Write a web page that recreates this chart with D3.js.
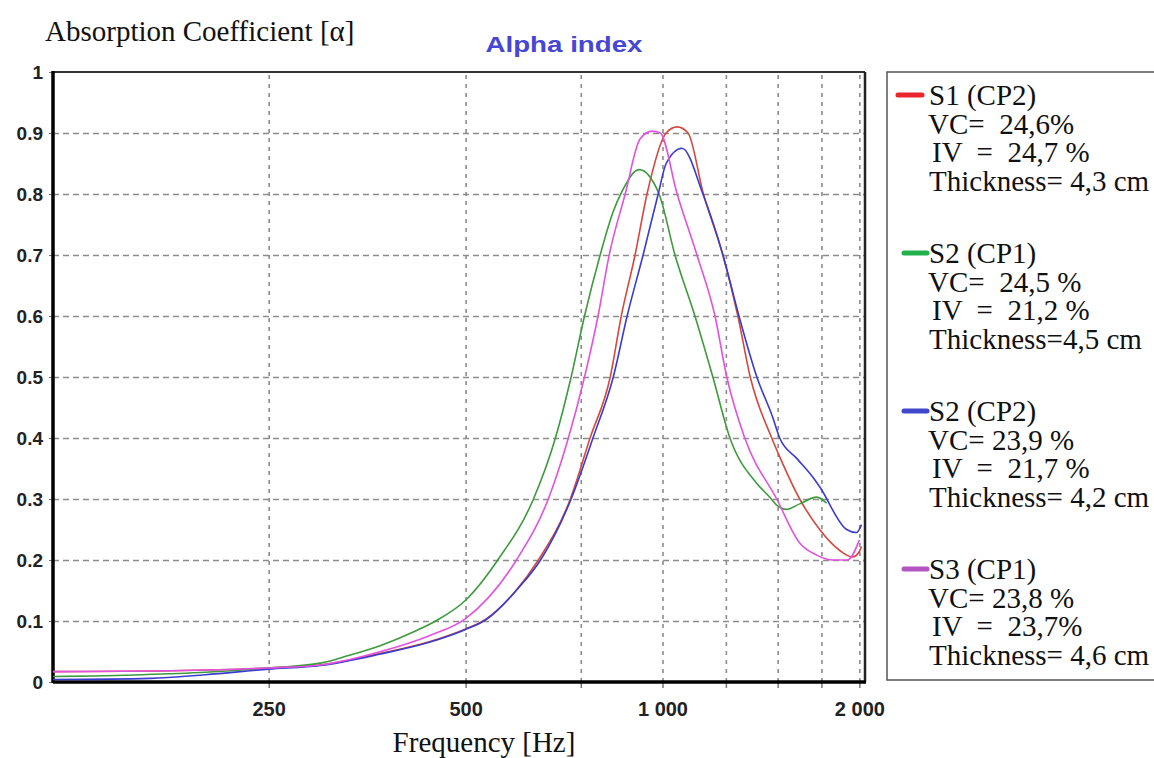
<!DOCTYPE html>
<html>
<head>
<meta charset="utf-8">
<script src="https://cdn.jsdelivr.net/npm/d3@7"></script>
<style>
  body { margin: 0; background: #fff; }
  svg { display: block; }
</style>
</head>
<body>
<svg id="chart" width="1154" height="758"></svg>
<script>
// valeurs : [fréquence Hz, alpha]
const s1Data = [[117,0.017],[170,0.018],[210,0.020],[250,0.023],[300,0.028],[371,0.047],[440,0.066],[500,0.087],[537,0.103],[595,0.148],[646,0.200],[723,0.300],[775,0.400],[832,0.500],[865,0.600],[908,0.700],[947,0.800],[1013,0.900],[1053,0.910],[1094,0.900],[1155,0.800],[1237,0.700],[1304,0.600],[1362,0.500],[1469,0.400],[1511,0.369],[1621,0.300],[1739,0.250],[1865,0.216],[1952,0.205],[2000,0.214],[2015,0.222]];
const s2cp1Data = [[117,0.009],[160,0.012],[200,0.016],[250,0.023],[300,0.031],[330,0.043],[371,0.060],[420,0.084],[450,0.100],[500,0.134],[560,0.200],[635,0.300],[686,0.400],[725,0.500],[760,0.600],[803,0.700],[840,0.770],[868,0.805],[921,0.840],[988,0.800],[1045,0.700],[1121,0.600],[1194,0.500],[1268,0.400],[1393,0.326],[1459,0.303],[1495,0.290],[1548,0.283],[1621,0.292],[1721,0.303],[1782,0.293]];
const s2cp2Data = [[117,0.004],[165,0.006],[200,0.012],[250,0.021],[300,0.027],[371,0.046],[440,0.065],[500,0.086],[537,0.102],[600,0.152],[651,0.200],[725,0.300],[783,0.400],[841,0.500],[883,0.600],[934,0.700],[985,0.800],[1013,0.850],[1071,0.875],[1153,0.800],[1237,0.700],[1309,0.600],[1394,0.500],[1474,0.434],[1511,0.400],[1603,0.367],[1697,0.336],[1739,0.320],[1912,0.250],[1980,0.245],[2015,0.258]];
const s3Data = [[117,0.017],[170,0.018],[210,0.020],[250,0.023],[300,0.028],[371,0.050],[440,0.076],[500,0.104],[598,0.200],[669,0.300],[718,0.400],[760,0.500],[797,0.600],[829,0.700],[877,0.800],[924,0.890],[964,0.903],[992,0.900],[1053,0.800],[1129,0.700],[1203,0.600],[1254,0.500],[1336,0.400],[1495,0.300],[1621,0.228],[1721,0.208],[1820,0.200],[1918,0.200],[2000,0.233]];

const seriesNames = ["S1 (CP2)", "S2 (CP1)", "S2 (CP2)", "S3 (CP1)"];
const lineColors = ["#d5483e", "#3d9a3d", "#3a3ccc", "#e252e2"];
const swatchColors = ["#e8262c", "#22b14c", "#3f48cc", "#b355c0"];
const vcLabels = ["VC=  24,6%", "VC=  24,5 %", "VC= 23,9 %", "VC= 23,8 %"];
const ivLabels = ["IV  =  24,7 %", "IV  =  21,2 %", "IV  =  21,7 %", "IV  =  23,7%"];
const thickLabels = ["Thickness= 4,3 cm", "Thickness=4,5 cm", "Thickness= 4,2 cm", "Thickness= 4,6 cm"];

const xGridValues = [250, 500, 750, 1000, 1250, 1500, 1750, 2000];
const xTickValues = [250, 500, 1000, 2000];
const xTickLabels = ["250", "500", "1 000", "2 000"];
const yTickValues = [0, 0.1, 0.2, 0.3, 0.4, 0.5, 0.6, 0.7, 0.8, 0.9, 1];
const yTickLabels = ["0", "0.1", "0.2", "0.3", "0.4", "0.5", "0.6", "0.7", "0.8", "0.9", "1"];

const allSeries = [s1Data, s2cp1Data, s2cp2Data, s3Data];

const svg = d3.select("#chart");
const plotLeft = 53, plotRight = 865, plotTop = 72, plotBottom = 682;

const x = d3.scaleLog().domain([117, 2040]).range([plotLeft, plotRight]);
const y = d3.scaleLinear().domain([0, 1]).range([plotBottom, plotTop]);

const sansFont = "'Liberation Sans', Arial, sans-serif";
const serifFont = "'Liberation Serif', 'Times New Roman', serif";

// grille verticale
const gx = svg.append("g")
    .attr("transform", `translate(0,${plotBottom})`)
    .call(d3.axisBottom(x).tickValues(xGridValues).tickSize(-(plotBottom - plotTop)).tickFormat(""));
gx.select(".domain").remove();
gx.selectAll("line")
    .attr("stroke", "#8c8c8c")
    .attr("stroke-width", 1.6)
    .attr("stroke-dasharray", "4,5");

// petits traits sous l'axe
svg.append("g")
    .attr("transform", `translate(0,${plotBottom})`)
    .call(d3.axisBottom(x).tickValues(xGridValues).tickSize(6).tickFormat(""))
    .call(g => g.select(".domain").remove())
    .selectAll("line").attr("stroke", "#777").attr("stroke-width", 1.5);

// grille horizontale
const gy = svg.append("g")
    .attr("transform", `translate(${plotLeft},0)`)
    .call(d3.axisLeft(y).tickValues(yTickValues.slice(1, -1)).tickSize(-(plotRight - plotLeft)).tickFormat(""));
gy.select(".domain").remove();
gy.selectAll("line")
    .attr("stroke", "#8c8c8c")
    .attr("stroke-width", 1.6)
    .attr("stroke-dasharray", "6,4");

// étiquettes axe x
const xAxis = svg.append("g")
    .attr("transform", `translate(0,${plotBottom})`)
    .call(d3.axisBottom(x).tickValues(xTickValues).tickSize(0).tickPadding(20)
        .tickFormat((d, i) => xTickLabels[i]));
xAxis.select(".domain").remove();
xAxis.selectAll("text")
    .attr("font-family", sansFont)
    .attr("font-weight", "bold")
    .attr("font-size", 20)
    .attr("fill", "#222");

// étiquettes axe y
const yAxis = svg.append("g")
    .attr("transform", `translate(${plotLeft},0)`)
    .call(d3.axisLeft(y).tickValues(yTickValues).tickSize(4).tickPadding(6)
        .tickFormat((d, i) => yTickLabels[i]));
yAxis.select(".domain").remove();
yAxis.selectAll("line").attr("stroke", "#777");
yAxis.selectAll("text")
    .attr("font-family", sansFont)
    .attr("font-weight", "bold")
    .attr("font-size", 19)
    .attr("fill", "#222");

// cadre
svg.append("line").attr("x1", plotLeft).attr("x2", plotRight).attr("y1", plotTop).attr("y2", plotTop)
    .attr("stroke", "#333").attr("stroke-width", 2);
svg.append("line").attr("x1", plotRight).attr("x2", plotRight).attr("y1", plotTop).attr("y2", plotBottom)
    .attr("stroke", "#222").attr("stroke-width", 2.5);
svg.append("line").attr("x1", plotLeft).attr("x2", plotLeft).attr("y1", plotTop - 1).attr("y2", plotBottom + 1)
    .attr("stroke", "#000").attr("stroke-width", 3.5);
svg.append("line").attr("x1", plotLeft).attr("x2", plotRight + 1).attr("y1", plotBottom).attr("y2", plotBottom)
    .attr("stroke", "#000").attr("stroke-width", 3.5);

// courbes
const line = d3.line()
    .x(d => x(d[0]))
    .y(d => y(d[1]))
    .curve(d3.curveMonotoneX);

svg.append("g").selectAll("path")
    .data(allSeries)
    .join("path")
    .attr("d", line)
    .attr("fill", "none")
    .attr("stroke", (d, i) => lineColors[i])
    .attr("stroke-width", 1.6);

// titres
svg.append("text")
    .attr("x", 564).attr("y", 52)
    .attr("text-anchor", "middle")
    .attr("font-family", sansFont)
    .attr("font-weight", "bold")
    .attr("font-size", 22)
    .attr("fill", "#4646d6")
    .attr("textLength", 157)
    .attr("lengthAdjust", "spacingAndGlyphs")
    .text("Alpha index");

svg.append("text")
    .attr("x", 45).attr("y", 41)
    .attr("font-family", serifFont)
    .attr("font-size", 29)
    .attr("fill", "#111")
    .text("Absorption Coefficient [α]");

svg.append("text")
    .attr("x", 484).attr("y", 752)
    .attr("text-anchor", "middle")
    .attr("font-family", serifFont)
    .attr("font-size", 29)
    .attr("fill", "#111")
    .text("Frequency [Hz]");

// légende
svg.append("rect")
    .attr("x", 887).attr("y", 72)
    .attr("width", 300).attr("height", 608)
    .attr("fill", "none")
    .attr("stroke", "#555")
    .attr("stroke-width", 1.5);

const legend = svg.append("g");
seriesNames.forEach((name, i) => {
    const base = 105 + i * 158;
    const g = legend.append("g");
    g.append("line")
        .attr("x1", i === 0 ? 898 : 904).attr("x2", i === 0 ? 922 : 927)
        .attr("y1", base - 10).attr("y2", base - 10)
        .attr("stroke", swatchColors[i])
        .attr("stroke-width", 5)
        .attr("stroke-linecap", "round");
    const lines = [name, vcLabels[i], ivLabels[i], thickLabels[i]];
    const xs = [929, 928, 932, 929];
    lines.forEach((t, j) => {
        g.append("text")
            .attr("x", xs[j])
            .attr("y", base + j * 28.5)
            .attr("font-family", serifFont)
            .attr("font-size", 29)
            .attr("fill", "#111")
            .attr("xml:space", "preserve")
            .style("white-space", "pre")
            .text(t);
    });
});
</script>
</body>
</html>
